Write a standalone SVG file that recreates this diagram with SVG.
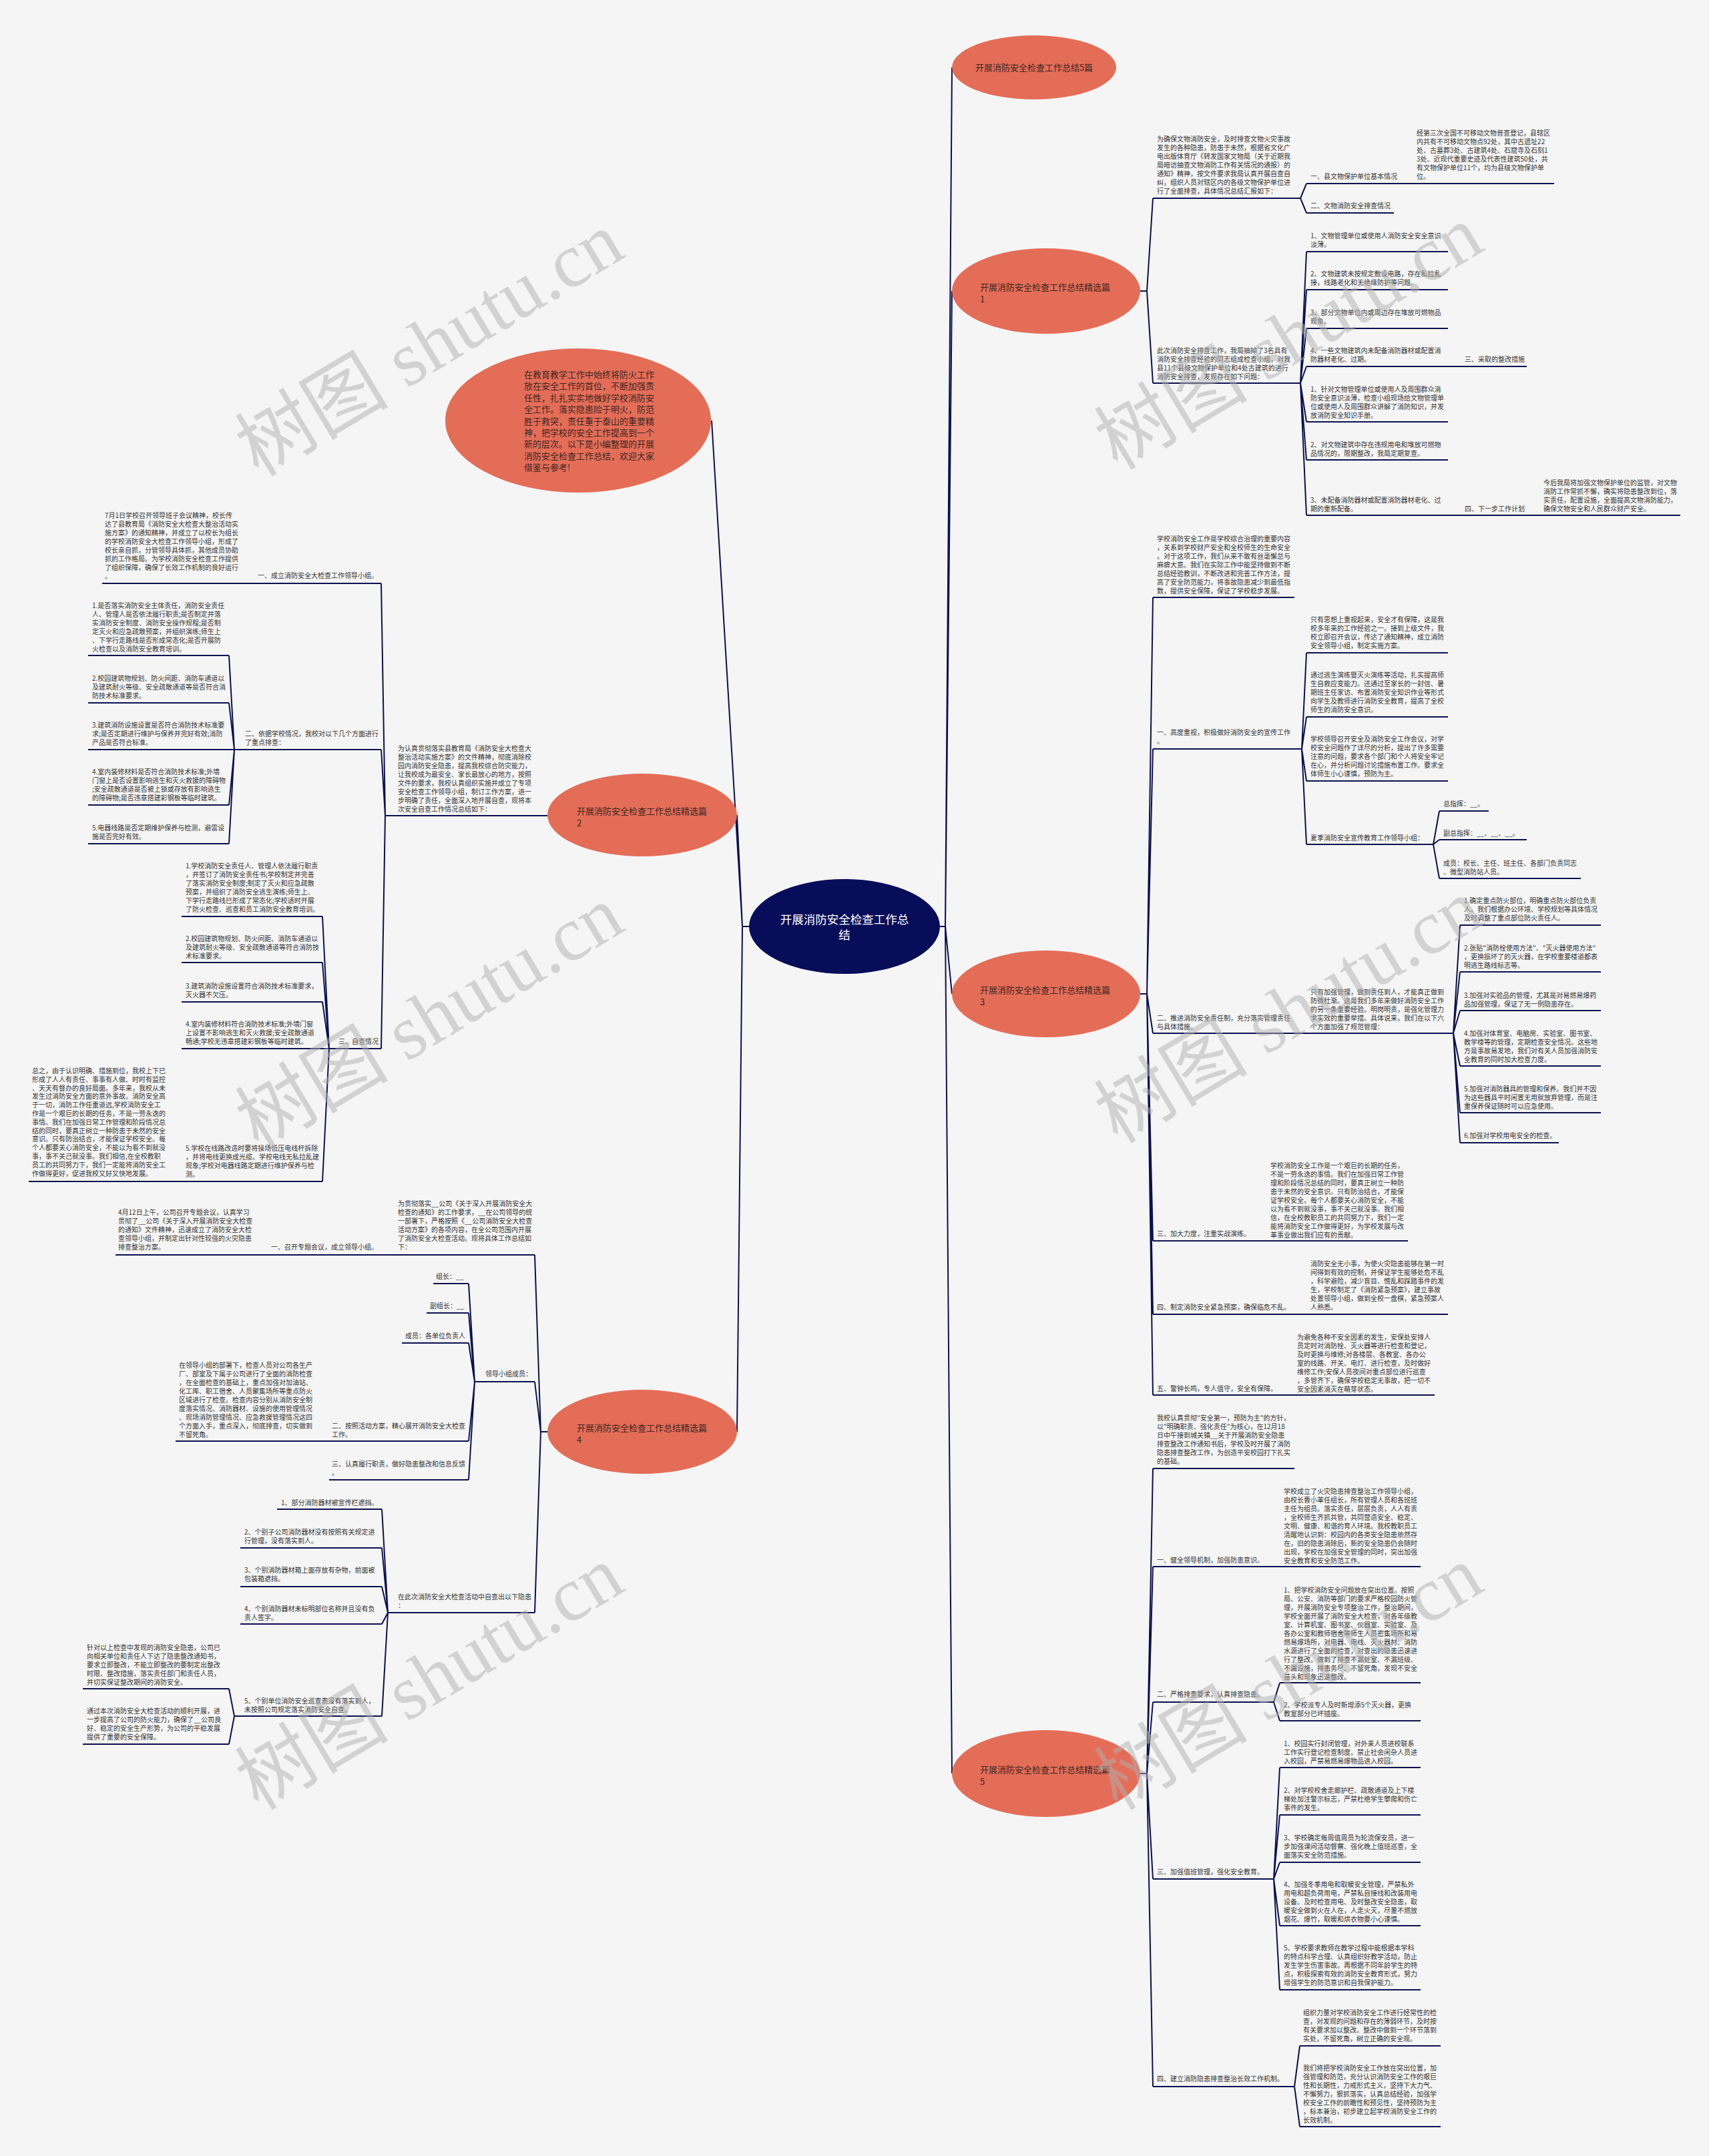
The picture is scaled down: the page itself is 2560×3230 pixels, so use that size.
<svg xmlns="http://www.w3.org/2000/svg" width="2560" height="3230" viewBox="0 0 2560 3230">
<style>
.t{font-family:"Noto Sans CJK SC","Noto Sans",sans-serif;font-size:10px;fill:#333}
.bt{font-family:"Noto Sans CJK SC","Noto Sans",sans-serif;font-size:13px;fill:#3b2520}
.ct{font-family:"Noto Sans CJK SC","Noto Sans",sans-serif;font-size:17.5px;fill:#fff;text-anchor:middle}
.ul{stroke:#0b1150;stroke-width:2}
.cn{stroke:#0b1150;stroke-width:2;fill:none}
.b{fill:#e46d58}
.wm{font-family:"Liberation Serif","Noto Sans CJK SC",serif;font-size:115px;fill:#b0b0b0;opacity:0.5;text-anchor:middle}
</style>
<rect width="2560" height="3230" fill="#f5f5f5"/>
<g id="connectors">
<path class="cn" d="M1407 1388H1416L1426 101M1416 1388L1426 436M1416 1388L1426 1489M1416 1388L1426 2657"/>
<path class="cn" d="M1122 1388H1112L1066 630M1112 1388L1104 1221M1112 1388L1104 2145"/>
<path class="cn" d="M1708 436H1718L1727 297M1718 436L1727 574"/>
<path class="cn" d="M1948 297L1957 275M1948 297L1957 319"/>
<path class="cn" d="M1948 574L1957 377M1948 574L1957 434M1948 574L1957 492M1948 574L1957 549M1948 574L1957 632M1948 574L1957 689M1948 574L1957 772"/>
<path class="cn" d="M1708 1489H1718L1727 895M1718 1489L1727 1122M1718 1489L1727 1548M1718 1489L1727 1859M1718 1489L1727 1969M1718 1489L1727 2090"/>
<path class="cn" d="M1950 1122L1957 978M1950 1122L1957 1074M1950 1122L1957 1170M1950 1122L1957 1265"/>
<path class="cn" d="M2147 1265L2156 1215M2147 1265L2156 1258M2147 1265L2156 1316"/>
<path class="cn" d="M2177 1548L2187 1386M2177 1548L2187 1456M2177 1548L2187 1514M2177 1548L2187 1597M2177 1548L2187 1667M2177 1548L2187 1712"/>
<path class="cn" d="M1708 2657H1718L1727 2200M1718 2657L1727 2347M1718 2657L1727 2550M1718 2657L1727 2815M1718 2657L1727 3126"/>
<path class="cn" d="M1908 2550L1917 2521M1908 2550L1917 2578"/>
<path class="cn" d="M1908 2815L1917 2648M1908 2815L1917 2719M1908 2815L1917 2790M1908 2815L1917 2885M1908 2815L1917 2981"/>
<path class="cn" d="M1939 3126L1947 3065M1939 3126L1947 3186"/>
<path class="cn" d="M583 1222H577L571 874M577 1222L571 1123M577 1222L571 1571"/>
<path class="cn" d="M351 1123L343 982M351 1123L343 1053M351 1123L343 1123M351 1123L343 1206M351 1123L343 1264"/>
<path class="cn" d="M493 1571L483 1373M493 1571L483 1442M493 1571L483 1501M493 1571L483 1571M493 1571L483 1770"/>
<path class="cn" d="M820 2145H810L801 1880M810 2145L801 2070M810 2145L801 2416"/>
<path class="cn" d="M711 2070L702 1923M711 2070L702 1967M711 2070L702 2012M711 2070L702 2159M711 2070L702 2217"/>
<path class="cn" d="M581 2416L572 2261M581 2416L572 2319M581 2416L572 2377M581 2416L572 2433M581 2416L572 2571"/>
<path class="cn" d="M351 2571L343 2530M351 2571L343 2613"/>
</g>

<g id="root">
<ellipse cx="1265" cy="1388" rx="143" ry="71" fill="#070d59"/>
<text class="ct" x="1265" y="1384">开展消防安全检查工作总<tspan x="1265" dy="23">结</tspan></text>
</g>

<g id="top5">
<ellipse class="b" cx="1549" cy="101" rx="123" ry="48"/>
<text class="bt" x="1549" y="106" text-anchor="middle">开展消防安全检查工作总结5篇</text>
</g>

<g id="intro">
<ellipse class="b" cx="866" cy="630" rx="199" ry="108"/>
<text class="bt" x="785" y="566"><tspan x="785" dy="0">在教育教学工作中始终将防火工作</tspan><tspan x="785" dy="17.4">放在安全工作的首位，不断加强责</tspan><tspan x="785" dy="17.4">任性，扎扎实实地做好学校消防安</tspan><tspan x="785" dy="17.4">全工作。落实隐患险于明火，防范</tspan><tspan x="785" dy="17.4">胜于救突，责任重于泰山的重要精</tspan><tspan x="785" dy="17.4">神，把学校的安全工作提高到一个</tspan><tspan x="785" dy="17.4">新的层次。以下是小编整理的开展</tspan><tspan x="785" dy="17.4">消防安全检查工作总结，欢迎大家</tspan><tspan x="785" dy="17.4">借鉴与参考!</tspan></text>
</g>

<!-- Branch 1 -->
<g id="b1">
<ellipse class="b" cx="1567" cy="436" rx="141" ry="64"/>
<text class="bt" x="1468" y="435">开展消防安全检查工作总结精选篇<tspan x="1468" dy="18">1</tspan></text>
</g>
<g id="b1-a">
<line class="ul" x1="1727" y1="297" x2="1948" y2="297"/>
<text class="t" x="1733" y="212"><tspan x="1733" dy="0">为确保文物消防安全，及时排查文物火灾事故</tspan><tspan x="1733" dy="13">发生的各种隐患，防患于未然，根据省文化广</tspan><tspan x="1733" dy="13">电出版体育厅《转发国家文物局（关于近期我</tspan><tspan x="1733" dy="13">局暗访抽查文物消防工作有关情况的通报）的</tspan><tspan x="1733" dy="13">通知》精神，按文件要求我局认真开展自查自</tspan><tspan x="1733" dy="13">纠，组织人员对辖区内的各级文物保护单位进</tspan><tspan x="1733" dy="13">行了全面排查，具体情况总结汇报如下：</tspan></text>
</g>
<g id="b1-a1">
<line class="ul" x1="1957" y1="275" x2="2328" y2="275"/>
<text class="t" x="1963" y="268">一、县文物保护单位基本情况</text>
<text class="t" x="2122" y="203"><tspan x="2122" dy="0">经第三次全国不可移动文物普查登记，县辖区</tspan><tspan x="2122" dy="13">内共有不可移动文物点92处，其中古遗址22</tspan><tspan x="2122" dy="13">处、古墓葬3处、古建筑4处、石窟寺及石刻1</tspan><tspan x="2122" dy="13">3处、近现代重要史迹及代表性建筑50处，共</tspan><tspan x="2122" dy="13">有文物保护单位11个，均为县级文物保护单</tspan><tspan x="2122" dy="13">位。</tspan></text>
</g>
<g id="b1-a2">
<line class="ul" x1="1957" y1="319" x2="2088" y2="319"/>
<text class="t" x="1963" y="312">二、文物消防安全排查情况</text>
</g>
<g id="b1-b">
<line class="ul" x1="1727" y1="574" x2="1948" y2="574"/>
<text class="t" x="1733" y="529"><tspan x="1733" dy="0">此次消防安全排查工作，我局抽掉了3名具有</tspan><tspan x="1733" dy="13">消防安全排查经验的同志组成检查小组，对我</tspan><tspan x="1733" dy="13">县11个县级文物保护单位和4处古建筑的进行</tspan><tspan x="1733" dy="13">消防安全排查，发现存在如下问题：</tspan></text>
</g>
<g id="b1-b1">
<line class="ul" x1="1957" y1="377" x2="2169" y2="377"/>
<text class="t" x="1963" y="357">1、文物管理单位或使用人消防安全安全意识<tspan x="1963" dy="13">淡薄。</tspan></text>
</g>
<g id="b1-b2">
<line class="ul" x1="1957" y1="434" x2="2169" y2="434"/>
<text class="t" x="1963" y="414">2、文物建筑未按规定敷设电路，存在私拉乱<tspan x="1963" dy="13">接，线路老化和无绝缘防护等问题。</tspan></text>
</g>
<g id="b1-b3">
<line class="ul" x1="1957" y1="492" x2="2169" y2="492"/>
<text class="t" x="1963" y="472">3、部分文物单位内或周边存在堆放可燃物品<tspan x="1963" dy="13">现象。</tspan></text>
</g>
<g id="b1-b4">
<line class="ul" x1="1957" y1="549" x2="2287" y2="549"/>
<text class="t" x="1963" y="529">4、一些文物建筑内未配备消防器材或配置消<tspan x="1963" dy="13">防器材老化、过期。</tspan></text>
<text class="t" x="2194" y="542">三、采取的整改措施</text>
</g>
<g id="b1-b5">
<line class="ul" x1="1957" y1="632" x2="2169" y2="632"/>
<text class="t" x="1963" y="587"><tspan x="1963" dy="0">1、针对文物管理单位或使用人及周围群众消</tspan><tspan x="1963" dy="13">防安全意识淡薄，检查小组现场给文物管理单</tspan><tspan x="1963" dy="13">位或使用人及周围群众讲解了消防知识，并发</tspan><tspan x="1963" dy="13">放消防安全知识手册。</tspan></text>
</g>
<g id="b1-b6">
<line class="ul" x1="1957" y1="689" x2="2169" y2="689"/>
<text class="t" x="1963" y="670">2、对文物建筑中存在违规用电和堆放可燃物<tspan x="1963" dy="13">品情况的，限期整改，我局定期复查。</tspan></text>
</g>
<g id="b1-b7">
<line class="ul" x1="1957" y1="772" x2="2517" y2="772"/>
<text class="t" x="1963" y="753">3、未配备消防器材或配置消防器材老化、过<tspan x="1963" dy="13">期的重新配备。</tspan></text>
<text class="t" x="2194" y="766">四、下一步工作计划</text>
<text class="t" x="2312" y="727"><tspan x="2312" dy="0">今后我局将加强文物保护单位的监管，对文物</tspan><tspan x="2312" dy="13">消防工作常抓不懈，确实将隐患整改到位，落</tspan><tspan x="2312" dy="13">实责任，配置设施，全面提高文物消防能力，</tspan><tspan x="2312" dy="13">确保文物安全和人民群众财产安全。</tspan></text>
</g>

<!-- Branch 3 -->
<g id="b3">
<ellipse class="b" cx="1567" cy="1489" rx="141" ry="65"/>
<text class="bt" x="1468" y="1488">开展消防安全检查工作总结精选篇<tspan x="1468" dy="18">3</tspan></text>
</g>
<g id="b3-c">
<line class="ul" x1="1727" y1="895" x2="1939" y2="895"/>
<text class="t" x="1733" y="811"><tspan x="1733" dy="0">学校消防安全工作是学校综合治理的重要内容</tspan><tspan x="1733" dy="13">，关系到学校财产安全和全校师生的生命安全</tspan><tspan x="1733" dy="13">。对于这项工作，我们从来不敢有丝毫懈怠与</tspan><tspan x="1733" dy="13">麻痹大意。我们在实际工作中能坚持做到不断</tspan><tspan x="1733" dy="13">总结经验教训，不断改进和完善工作方法，提</tspan><tspan x="1733" dy="13">高了安全防范能力，将事故隐患减少到最低指</tspan><tspan x="1733" dy="13">数，提供安全保障，保证了学校稳步发展。</tspan></text>
</g>
<g id="b3-1">
<line class="ul" x1="1727" y1="1122" x2="1950" y2="1122"/>
<text class="t" x="1733" y="1101">一、高度重视，积极做好消防安全的宣传工作<tspan x="1733" dy="13">。</tspan></text>
</g>
<g id="b3-1a">
<line class="ul" x1="1957" y1="978" x2="2169" y2="978"/>
<text class="t" x="1963" y="932"><tspan x="1963" dy="0">只有思想上重视起来，安全才有保障，这是我</tspan><tspan x="1963" dy="13">校多年来的工作经验之一。接到上级文件，我</tspan><tspan x="1963" dy="13">校立即召开会议，传达了通知精神，成立消防</tspan><tspan x="1963" dy="13">安全领导小组，制定实施方案。</tspan></text>
</g>
<g id="b3-1b">
<line class="ul" x1="1957" y1="1074" x2="2169" y2="1074"/>
<text class="t" x="1963" y="1015"><tspan x="1963" dy="0">通过逃生演练暨灭火演练等活动，扎实提高师</tspan><tspan x="1963" dy="13">生自救应变能力。还通过至家长的一封信、暑</tspan><tspan x="1963" dy="13">期班主任家访、布置消防安全知识作业等形式</tspan><tspan x="1963" dy="13">向学生及教师进行消防安全教育，提高了全校</tspan><tspan x="1963" dy="13">师生的消防安全意识。</tspan></text>
</g>
<g id="b3-1c">
<line class="ul" x1="1957" y1="1170" x2="2169" y2="1170"/>
<text class="t" x="1963" y="1111"><tspan x="1963" dy="0">学校领导召开安全及消防安全工作会议，对学</tspan><tspan x="1963" dy="13">校安全问题作了详尽的分析，提出了许多需要</tspan><tspan x="1963" dy="13">注意的问题，要求各个部门和个人将安全牢记</tspan><tspan x="1963" dy="13">在心，并分析问题讨论措施布置工作。要求全</tspan><tspan x="1963" dy="13">体师生小心谨慎，预防为主。</tspan></text>
</g>
<g id="b3-1d">
<line class="ul" x1="1957" y1="1265" x2="2147" y2="1265"/>
<text class="t" x="1963" y="1259">夏季消防安全宣传教育工作领导小组：</text>
</g>
<g id="b3-1d1">
<line class="ul" x1="2156" y1="1215" x2="2230" y2="1215"/>
<text class="t" x="2162" y="1208">总指挥：__。</text>
</g>
<g id="b3-1d2">
<line class="ul" x1="2156" y1="1258" x2="2287" y2="1258"/>
<text class="t" x="2162" y="1252">副总指挥：__、__、__。</text>
</g>
<g id="b3-1d3">
<line class="ul" x1="2156" y1="1316" x2="2368" y2="1316"/>
<text class="t" x="2162" y="1297">成员：校长、主任、班主任、各部门负责同志<tspan x="2162" dy="13">、微型消防站人员。</tspan></text>
</g>
<g id="b3-2">
<line class="ul" x1="1727" y1="1548" x2="2177" y2="1548"/>
<text class="t" x="1733" y="1529">二、推进消防安全责任制，充分落实管理责任<tspan x="1733" dy="13">与具体措施。</tspan></text>
<text class="t" x="1963" y="1490"><tspan x="1963" dy="0">只有加强管理，做到责任到人，才能真正做到</tspan><tspan x="1963" dy="13">防微杜渐。这是我们多年来做好消防安全工作</tspan><tspan x="1963" dy="13">的另一条重要经验。明岗明责，是强化管理力</tspan><tspan x="1963" dy="13">求实效的重要举措。具体说来，我们在以下六</tspan><tspan x="1963" dy="13">个方面加强了规范管理：</tspan></text>
</g>
<g id="b3-2a">
<line class="ul" x1="2187" y1="1386" x2="2398" y2="1386"/>
<text class="t" x="2193" y="1353"><tspan x="2193" dy="0">1.确定重点防火部位，明确重点防火部位负责</tspan><tspan x="2193" dy="13">人。我们根据办公环境、学校规划等具体情况</tspan><tspan x="2193" dy="13">及时调整了重点部位防火责任人。</tspan></text>
</g>
<g id="b3-2b">
<line class="ul" x1="2187" y1="1456" x2="2398" y2="1456"/>
<text class="t" x="2193" y="1424"><tspan x="2193" dy="0">2.张贴"消防栓使用方法"、"灭火器使用方法"</tspan><tspan x="2193" dy="13">，更换损坏了的灭火器，在学校重要楼道都表</tspan><tspan x="2193" dy="13">明逃生路线标志等。</tspan></text>
</g>
<g id="b3-2c">
<line class="ul" x1="2187" y1="1514" x2="2398" y2="1514"/>
<text class="t" x="2193" y="1495">3.加强对实验品的管理，尤其是对易燃易爆药<tspan x="2193" dy="13">品加强管理，保证了无一例隐患存在。</tspan></text>
</g>
<g id="b3-2d">
<line class="ul" x1="2187" y1="1597" x2="2398" y2="1597"/>
<text class="t" x="2193" y="1552"><tspan x="2193" dy="0">4.加强对体育室、电脑房、实验室、图书室、</tspan><tspan x="2193" dy="13">教学楼等的管理，定期检查安全情况。这些地</tspan><tspan x="2193" dy="13">方是事故易发地，我们对有关人员加强消防安</tspan><tspan x="2193" dy="13">全教育的同时加大检查力度。</tspan></text>
</g>
<g id="b3-2e">
<line class="ul" x1="2187" y1="1667" x2="2398" y2="1667"/>
<text class="t" x="2193" y="1635"><tspan x="2193" dy="0">5.加强对消防器具的管理和保养。我们并不因</tspan><tspan x="2193" dy="13">为这些器具平时闲置无用就放弃管理，而是注</tspan><tspan x="2193" dy="13">重保养保证随时可以应急使用。</tspan></text>
</g>
<g id="b3-2f">
<line class="ul" x1="2187" y1="1712" x2="2335" y2="1712"/>
<text class="t" x="2193" y="1705">6.加强对学校用电安全的检查。</text>
</g>
<g id="b3-3">
<line class="ul" x1="1727" y1="1859" x2="2109" y2="1859"/>
<text class="t" x="1733" y="1852">三、加大力度，注重实战演练。</text>
<text class="t" x="1903" y="1750"><tspan x="1903" dy="0">学校消防安全工作是一个艰巨的长期的任务，</tspan><tspan x="1903" dy="13">不是一劳永逸的事情。我们在加强日常工作管</tspan><tspan x="1903" dy="13">理和阶段情况总结的同时，要真正树立一种防</tspan><tspan x="1903" dy="13">患于未然的安全意识。只有防治结合，才能保</tspan><tspan x="1903" dy="13">证学校安全。每个人都要关心消防安全，不能</tspan><tspan x="1903" dy="13">以为看不到就没事，事不关己就没事。我们相</tspan><tspan x="1903" dy="13">信，在全校教职员工的共同努力下，我们一定</tspan><tspan x="1903" dy="13">能将消防安全工作做得更好，为学校发展与改</tspan><tspan x="1903" dy="13">革事业做出我们应有的贡献。</tspan></text>
</g>
<g id="b3-4">
<line class="ul" x1="1727" y1="1969" x2="2169" y2="1969"/>
<text class="t" x="1733" y="1962">四、制定消防安全紧急预案，确保临危不乱。</text>
<text class="t" x="1963" y="1897"><tspan x="1963" dy="0">消防安全无小事，为使火灾隐患能够在第一时</tspan><tspan x="1963" dy="13">间得到有效的控制，并保证学生能够处危不乱</tspan><tspan x="1963" dy="13">，科学避险，减少盲目、慌乱和踩踏事件的发</tspan><tspan x="1963" dy="13">生，学校制定了《消防紧急预案》，建立事故</tspan><tspan x="1963" dy="13">处置领导小组，做到全校一盘棋，紧急预案人</tspan><tspan x="1963" dy="13">人熟悉。</tspan></text>
</g>
<g id="b3-5">
<line class="ul" x1="1727" y1="2090" x2="2149" y2="2090"/>
<text class="t" x="1733" y="2084">五、警钟长鸣，专人值守，安全有保障。</text>
<text class="t" x="1943" y="2007"><tspan x="1943" dy="0">为避免各种不安全因素的发生，安保处安排人</tspan><tspan x="1943" dy="13">员定时对消防栓、灭火器等进行检查和登记，</tspan><tspan x="1943" dy="13">及时更换与维修;对各楼层、各教室、各办公</tspan><tspan x="1943" dy="13">室的线路、开关、电灯、进行检查，及时做好</tspan><tspan x="1943" dy="13">维修工作;安保人员夜间对重点部位进行巡查</tspan><tspan x="1943" dy="13">，多管齐下，确保学校稳定无事故，把一切不</tspan><tspan x="1943" dy="13">安全因素消灭在萌芽状态。</tspan></text>
</g>

<!-- Branch 5 -->
<g id="b5">
<ellipse class="b" cx="1567" cy="2657" rx="141" ry="65"/>
<text class="bt" x="1468" y="2656">开展消防安全检查工作总结精选篇<tspan x="1468" dy="18">5</tspan></text>
</g>
<g id="b5-i">
<line class="ul" x1="1727" y1="2200" x2="1939" y2="2200"/>
<text class="t" x="1733" y="2128"><tspan x="1733" dy="0">我校认真贯彻"安全第一，预防为主"的方针，</tspan><tspan x="1733" dy="13">以"明确职责、强化责任"为核心，在12月18</tspan><tspan x="1733" dy="13">日中午接到城关镇__关于开展消防安全隐患</tspan><tspan x="1733" dy="13">排查整改工作通知书后，学校及时开展了消防</tspan><tspan x="1733" dy="13">隐患排查整改工作，为创造平安校园打下扎实</tspan><tspan x="1733" dy="13">的基础。</tspan></text>
</g>
<g id="b5-1">
<line class="ul" x1="1727" y1="2347" x2="2128" y2="2347"/>
<text class="t" x="1733" y="2341">一、健全领导机制，加强防患意识。</text>
<text class="t" x="1923" y="2238"><tspan x="1923" dy="0">学校成立了火灾隐患排查整治工作领导小组，</tspan><tspan x="1923" dy="13">由校长曹小革任组长，所有管理人员和各班班</tspan><tspan x="1923" dy="13">主任为组员。落实责任，层层负责，人人有责</tspan><tspan x="1923" dy="13">，全校师生齐抓共管，共同营造安全、稳定、</tspan><tspan x="1923" dy="13">文明、健康、和谐的育人环境。我校教职员工</tspan><tspan x="1923" dy="13">清醒地认识到：校园内的各类安全隐患依然存</tspan><tspan x="1923" dy="13">在，旧的隐患消除后，新的安全隐患仍会随时</tspan><tspan x="1923" dy="13">出现，学校在加强安全管理的同时，突出加强</tspan><tspan x="1923" dy="13">安全教育和安全防范工作。</tspan></text>
</g>
<g id="b5-2">
<line class="ul" x1="1727" y1="2550" x2="1908" y2="2550"/>
<text class="t" x="1733" y="2542">二、严格排查要求，认真排查隐患。</text>
</g>
<g id="b5-2a">
<line class="ul" x1="1917" y1="2521" x2="2128" y2="2521"/>
<text class="t" x="1923" y="2386"><tspan x="1923" dy="0">1、把学校消防安全问题放在突出位置。按照</tspan><tspan x="1923" dy="13">局、公安、消防等部门的要求严格校园防火管</tspan><tspan x="1923" dy="13">理，开展消防安全专项整治工作，整治期间，</tspan><tspan x="1923" dy="13">学校全面开展了消防安全大检查，对各年级教</tspan><tspan x="1923" dy="13">室、计算机室、图书室、仪器室、实验室、及</tspan><tspan x="1923" dy="13">各办公室和教师宿舍等师生人员密集场所和易</tspan><tspan x="1923" dy="13">燃易爆场所，对电器、电线、灭火器材、消防</tspan><tspan x="1923" dy="13">水源进行了全面的检查，对查出的隐患迅速进</tspan><tspan x="1923" dy="13">行了整改。做到了排查不漏处室、不漏班级、</tspan><tspan x="1923" dy="13">不漏设施，排患务尽、不留死角，发现不安全</tspan><tspan x="1923" dy="13">苗头和现象迅速整改。</tspan></text>
</g>
<g id="b5-2b">
<line class="ul" x1="1917" y1="2578" x2="2128" y2="2578"/>
<text class="t" x="1923" y="2558">2、学校派专人及时新增添5个灭火器，更换<tspan x="1923" dy="13">教室部分已坏插座。</tspan></text>
</g>
<g id="b5-3">
<line class="ul" x1="1727" y1="2815" x2="1908" y2="2815"/>
<text class="t" x="1733" y="2808">三、加强值班管理，强化安全教育。</text>
</g>
<g id="b5-3a">
<line class="ul" x1="1917" y1="2648" x2="2128" y2="2648"/>
<text class="t" x="1923" y="2616"><tspan x="1923" dy="0">1、校园实行封闭管理，对外来人员进校联系</tspan><tspan x="1923" dy="13">工作实行登记检查制度。禁止社会闲杂人员进</tspan><tspan x="1923" dy="13">入校园，严禁易燃易爆物品进入校园。</tspan></text>
</g>
<g id="b5-3b">
<line class="ul" x1="1917" y1="2719" x2="2128" y2="2719"/>
<text class="t" x="1923" y="2686"><tspan x="1923" dy="0">2、对学校校舍走廊护栏、疏散通道及上下楼</tspan><tspan x="1923" dy="13">梯处加注警示标志，严禁杜绝学生攀爬和伤亡</tspan><tspan x="1923" dy="13">事件的发生。</tspan></text>
</g>
<g id="b5-3c">
<line class="ul" x1="1917" y1="2790" x2="2128" y2="2790"/>
<text class="t" x="1923" y="2757"><tspan x="1923" dy="0">3、学校确定每周值周员为轮流保安员，进一</tspan><tspan x="1923" dy="13">步加强课间活动督察、强化晚上值班巡查，全</tspan><tspan x="1923" dy="13">面落实安全防范措施。</tspan></text>
</g>
<g id="b5-3d">
<line class="ul" x1="1917" y1="2885" x2="2128" y2="2885"/>
<text class="t" x="1923" y="2827"><tspan x="1923" dy="0">4、加强冬季用电和取暖安全管理，严禁私外</tspan><tspan x="1923" dy="13">用电和超负荷用电，严禁私自接线和改装用电</tspan><tspan x="1923" dy="13">设备。及时检查用电、及时整改安全隐患，取</tspan><tspan x="1923" dy="13">暖安全做到火在人在，人走火灭，尽量不燃放</tspan><tspan x="1923" dy="13">烟花、爆竹，取暖和烘衣物要小心谨慎。</tspan></text>
</g>
<g id="b5-3e">
<line class="ul" x1="1917" y1="2981" x2="2128" y2="2981"/>
<text class="t" x="1923" y="2922"><tspan x="1923" dy="0">5、学校要求教师在教学过程中能根据本学科</tspan><tspan x="1923" dy="13">的特点科学合理、认真组织好教学活动，防止</tspan><tspan x="1923" dy="13">发生学生伤害事故。再根据不同年龄学生的特</tspan><tspan x="1923" dy="13">点，积极探索有效的消防安全教育形式，努力</tspan><tspan x="1923" dy="13">增强学生的防范意识和自我保护能力。</tspan></text>
</g>
<g id="b5-4">
<line class="ul" x1="1727" y1="3126" x2="1939" y2="3126"/>
<text class="t" x="1733" y="3118">四、建立消防隐患排查整治长效工作机制。</text>
</g>
<g id="b5-4a">
<line class="ul" x1="1947" y1="3065" x2="2158" y2="3065"/>
<text class="t" x="1952" y="3019"><tspan x="1952" dy="0">组织力量对学校消防安全工作进行经常性的检</tspan><tspan x="1952" dy="13">查，对发现的问题和存在的薄弱环节，及时按</tspan><tspan x="1952" dy="13">有关要求加以整改。整改中做到一个环节落到</tspan><tspan x="1952" dy="13">实处，不留死角，树立正确的安全观。</tspan></text>
</g>
<g id="b5-4b">
<line class="ul" x1="1947" y1="3186" x2="2158" y2="3186"/>
<text class="t" x="1952" y="3102"><tspan x="1952" dy="0">我们将把学校消防安全工作放在突出位置，加</tspan><tspan x="1952" dy="13">强管理和防范，充分认识消防安全工作的艰巨</tspan><tspan x="1952" dy="13">性和长期性，力戒形式主义，坚持下大力气、</tspan><tspan x="1952" dy="13">不懈努力，狠抓落实，认真总结经验，加强学</tspan><tspan x="1952" dy="13">校安全工作的前瞻性和预见性，坚持预防为主</tspan><tspan x="1952" dy="13">，标本兼治，初步建立起学校消防安全工作的</tspan><tspan x="1952" dy="13">长效机制。</tspan></text>
</g>

<!-- Branch 2 -->
<g id="b2">
<ellipse class="b" cx="962" cy="1221" rx="142" ry="62"/>
<text class="bt" x="864" y="1220">开展消防安全检查工作总结精选篇<tspan x="864" dy="18">2</tspan></text>
</g>
<g id="b2-m">
<line class="ul" x1="583" y1="1222" x2="820" y2="1222"/>
<text class="t" x="596" y="1125"><tspan x="596" dy="0">为认真贯彻落实县教育局《消防安全大检查大</tspan><tspan x="596" dy="13">整治活动实施方案》的文件精神，彻底消除校</tspan><tspan x="596" dy="13">园内消防安全隐患，提高我校综合防灾能力，</tspan><tspan x="596" dy="13">让我校成为最安全、家长最放心的地方，按照</tspan><tspan x="596" dy="13">文件的要求，我校认真组织实施并成立了专项</tspan><tspan x="596" dy="13">安全检查工作领导小组，制订工作方案，进一</tspan><tspan x="596" dy="13">步明确了责任，全面深入地开展自查，现将本</tspan><tspan x="596" dy="13">次安全自查工作情况总结如下：</tspan></text>
</g>
<g id="b2-1">
<line class="ul" x1="153" y1="874" x2="571" y2="874"/>
<text class="t" x="386" y="866">一、成立消防安全大检查工作领导小组。</text>
<text class="t" x="157" y="776"><tspan x="157" dy="0">7月1日学校召开领导班子会议精神，校长传</tspan><tspan x="157" dy="13">达了县教育局《消防安全大检查大整治活动实</tspan><tspan x="157" dy="13">施方案》的通知精神，并成立了以校长为组长</tspan><tspan x="157" dy="13">的学校消防安全大检查工作领导小组，形成了</tspan><tspan x="157" dy="13">校长亲自抓，分管领导具体抓，其他成员协助</tspan><tspan x="157" dy="13">抓的工作格局。为学校消防安全检查工作提供</tspan><tspan x="157" dy="13">了组织保障，确保了长效工作机制的良好运行</tspan><tspan x="157" dy="13">。</tspan></text>
</g>
<g id="b2-2">
<line class="ul" x1="351" y1="1123" x2="571" y2="1123"/>
<text class="t" x="367" y="1103">二、依据学校情况，我校对以下几个方面进行<tspan x="367" dy="13">了重点排查：</tspan></text>
</g>
<g id="b2-2a">
<line class="ul" x1="132" y1="982" x2="343" y2="982"/>
<text class="t" x="138" y="911"><tspan x="138" dy="0">1.是否落实消防安全主体责任，消防安全责任</tspan><tspan x="138" dy="13">人、管理人是否依法履行职责;是否制定并落</tspan><tspan x="138" dy="13">实消防安全制度、消防安全操作规程;是否制</tspan><tspan x="138" dy="13">定灭火和应急疏散预案，并组织演练;师生上</tspan><tspan x="138" dy="13">、下学行走路线是否形成常态化;是否开展防</tspan><tspan x="138" dy="13">火检查以及消防安全教育培训。</tspan></text>
</g>
<g id="b2-2b">
<line class="ul" x1="132" y1="1053" x2="343" y2="1053"/>
<text class="t" x="138" y="1020"><tspan x="138" dy="0">2.校园建筑物规划、防火间距、消防车通道以</tspan><tspan x="138" dy="13">及建筑耐火等级、安全疏散通道等是否符合消</tspan><tspan x="138" dy="13">防技术标准要求。</tspan></text>
</g>
<g id="b2-2c">
<line class="ul" x1="132" y1="1123" x2="343" y2="1123"/>
<text class="t" x="138" y="1090"><tspan x="138" dy="0">3.建筑消防设施设置是否符合消防技术标准要</tspan><tspan x="138" dy="13">求;是否定期进行维护与保养并完好有效;消防</tspan><tspan x="138" dy="13">产品是否符合标准。</tspan></text>
</g>
<g id="b2-2d">
<line class="ul" x1="132" y1="1206" x2="343" y2="1206"/>
<text class="t" x="138" y="1160"><tspan x="138" dy="0">4.室内装修材料是否符合消防技术标准;外墙</tspan><tspan x="138" dy="13">门窗上是否设置影响逃生和灭火救援的障碍物</tspan><tspan x="138" dy="13">;安全疏散通道是否被上锁或存放有影响逃生</tspan><tspan x="138" dy="13">的障碍物;是否违章搭建彩钢板等临时建筑。</tspan></text>
</g>
<g id="b2-2e">
<line class="ul" x1="132" y1="1264" x2="343" y2="1264"/>
<text class="t" x="138" y="1244">5.电器线路是否定期维护保养与检测，避雷设<tspan x="138" dy="13">施是否完好有效。</tspan></text>
</g>
<g id="b2-3">
<line class="ul" x1="493" y1="1571" x2="571" y2="1571"/>
<text class="t" x="507" y="1564">三、自查情况</text>
</g>
<g id="b2-3a">
<line class="ul" x1="272" y1="1373" x2="483" y2="1373"/>
<text class="t" x="278" y="1301"><tspan x="278" dy="0">1.学校消防安全责任人、管理人依法履行职责</tspan><tspan x="278" dy="13">，并签订了消防安全责任书;学校制定并完善</tspan><tspan x="278" dy="13">了落实消防安全制度;制定了灭火和应急疏散</tspan><tspan x="278" dy="13">预案，并组织了消防安全逃生演练;师生上、</tspan><tspan x="278" dy="13">下学行走路线已形成了常态化;学校适时开展</tspan><tspan x="278" dy="13">了防火检查、巡查和员工消防安全教育培训。</tspan></text>
</g>
<g id="b2-3b">
<line class="ul" x1="272" y1="1442" x2="483" y2="1442"/>
<text class="t" x="278" y="1410"><tspan x="278" dy="0">2.校园建筑物规划、防火间距、消防车通道以</tspan><tspan x="278" dy="13">及建筑耐火等级、安全疏散通道等符合消防技</tspan><tspan x="278" dy="13">术标准要求。</tspan></text>
</g>
<g id="b2-3c">
<line class="ul" x1="272" y1="1501" x2="483" y2="1501"/>
<text class="t" x="278" y="1481">3.建筑消防设施设置符合消防技术标准要求，<tspan x="278" dy="13">灭火器不欠压。</tspan></text>
</g>
<g id="b2-3d">
<line class="ul" x1="272" y1="1571" x2="483" y2="1571"/>
<text class="t" x="278" y="1538"><tspan x="278" dy="0">4.室内装修材料符合消防技术标准;外墙门窗</tspan><tspan x="278" dy="13">上设置不影响逃生和灭火救援;安全疏散通道</tspan><tspan x="278" dy="13">畅通;学校无违章搭建彩钢板等临时建筑。</tspan></text>
</g>
<g id="b2-3e">
<line class="ul" x1="43" y1="1770" x2="483" y2="1770"/>
<text class="t" x="278" y="1724"><tspan x="278" dy="0">5.学校在线路改造时要将操场低压电线杆拆除</tspan><tspan x="278" dy="13">，并将电线更换成光缆。学校电线无私拉乱建</tspan><tspan x="278" dy="13">现象;学校对电器线路定期进行维护保养与检</tspan><tspan x="278" dy="13">测。</tspan></text>
<text class="t" x="48" y="1608"><tspan x="48" dy="0">总之，由于认识明确、措施到位，我校上下已</tspan><tspan x="48" dy="12.8">形成了人人有责任、事事有人做、时时有监控</tspan><tspan x="48" dy="12.8">、天天有督办的良好局面。多年来，我校从未</tspan><tspan x="48" dy="12.8">发生过消防安全方面的意外事故。消防安全高</tspan><tspan x="48" dy="12.8">于一切，消防工作任重道远,学校消防安全工</tspan><tspan x="48" dy="12.8">作是一个艰巨的长期的任务，不是一劳永逸的</tspan><tspan x="48" dy="12.8">事情。我们在加强日常工作管理和阶段情况总</tspan><tspan x="48" dy="12.8">结的同时，要真正树立一种防患于未然的安全</tspan><tspan x="48" dy="12.8">意识。只有防治结合，才能保证学校安全。每</tspan><tspan x="48" dy="12.8">个人都要关心消防安全，不能以为看不到就没</tspan><tspan x="48" dy="12.8">事，事不关己就没事。我们相信,在全校教职</tspan><tspan x="48" dy="12.8">员工的共同努力下，我们一定能将消防安全工</tspan><tspan x="48" dy="12.8">作做得更好，促进我校又好又快地发展。</tspan></text>
</g>

<!-- Branch 4 -->
<g id="b4">
<ellipse class="b" cx="962" cy="2145" rx="142" ry="63"/>
<text class="bt" x="864" y="2144">开展消防安全检查工作总结精选篇<tspan x="864" dy="18">4</tspan></text>
</g>
<g id="b4-r">
<line class="ul" x1="173" y1="1880" x2="801" y2="1880"/>
<text class="t" x="596" y="1807"><tspan x="596" dy="0">为贯彻落实__公司《关于深入开展消防安全大</tspan><tspan x="596" dy="13">检查的通知》的工作要求，__在公司领导的统</tspan><tspan x="596" dy="13">一部署下，严格按照《__公司消防安全大检查</tspan><tspan x="596" dy="13">活动方案》的各项内容，在全公司范围内开展</tspan><tspan x="596" dy="13">了消防安全大检查活动。现将具体工作总结如</tspan><tspan x="596" dy="13">下：</tspan></text>
<text class="t" x="406" y="1872">一、召开专题会议，成立领导小组。</text>
<text class="t" x="177" y="1820"><tspan x="177" dy="0">4月12日上午，公司召开专题会议，认真学习</tspan><tspan x="177" dy="13">贯彻了__公司《关于深入开展消防安全大检查</tspan><tspan x="177" dy="13">的通知》文件精神，迅速成立了消防安全大检</tspan><tspan x="177" dy="13">查领导小组，并制定出针对性较强的火灾隐患</tspan><tspan x="177" dy="13">排查整治方案。</tspan></text>
</g>
<g id="b4-g">
<line class="ul" x1="711" y1="2070" x2="801" y2="2070"/>
<text class="t" x="727" y="2062">领导小组成员：</text>
</g>
<g id="b4-g1">
<line class="ul" x1="649" y1="1923" x2="702" y2="1923"/>
<text class="t" x="653" y="1916">组长：__</text>
</g>
<g id="b4-g2">
<line class="ul" x1="639" y1="1967" x2="702" y2="1967"/>
<text class="t" x="644" y="1960">副组长：__</text>
</g>
<g id="b4-g3">
<line class="ul" x1="602" y1="2012" x2="702" y2="2012"/>
<text class="t" x="607" y="2005">成员：各单位负责人</text>
</g>
<g id="b4-g4">
<line class="ul" x1="263" y1="2159" x2="702" y2="2159"/>
<text class="t" x="497" y="2140">二、按照活动方案，精心展开消防安全大检查<tspan x="497" dy="13">工作。</tspan></text>
<text class="t" x="268" y="2049"><tspan x="268" dy="0">在领导小组的部署下，检查人员对公司各生产</tspan><tspan x="268" dy="13">厂、部室及下属子公司进行了全面的消防检查</tspan><tspan x="268" dy="13">，在全面检查的基础上，重点加强对加油站、</tspan><tspan x="268" dy="13">化工库、职工宿舍、人员聚集场所等重点防火</tspan><tspan x="268" dy="13">区域进行了检查。检查内容分别从消防安全制</tspan><tspan x="268" dy="13">度落实情况、消防器材、设施的使用管理情况</tspan><tspan x="268" dy="13">、现场消防管理情况、应急救援管理情况这四</tspan><tspan x="268" dy="13">个方面入手，重点深入，彻底排查，切实做到</tspan><tspan x="268" dy="13">不留死角。</tspan></text>
</g>
<g id="b4-g5">
<line class="ul" x1="493" y1="2217" x2="702" y2="2217"/>
<text class="t" x="497" y="2197">三、认真履行职责，做好隐患整改和信息反馈<tspan x="497" dy="13">。</tspan></text>
</g>
<g id="b4-h">
<line class="ul" x1="581" y1="2416" x2="801" y2="2416"/>
<text class="t" x="596" y="2396">在此次消防安全大检查活动中自查出以下隐患<tspan x="596" dy="13">：</tspan></text>
</g>
<g id="b4-h1">
<line class="ul" x1="415" y1="2261" x2="572" y2="2261"/>
<text class="t" x="421" y="2255">1、部分消防器材被宣传栏遮挡。</text>
</g>
<g id="b4-h2">
<line class="ul" x1="360" y1="2319" x2="572" y2="2319"/>
<text class="t" x="366" y="2299">2、个别子公司消防器材没有按照有关规定进<tspan x="366" dy="13">行管理，没有落实到人。</tspan></text>
</g>
<g id="b4-h3">
<line class="ul" x1="360" y1="2377" x2="572" y2="2377"/>
<text class="t" x="366" y="2356">3、个别消防器材箱上面存放有杂物，前面被<tspan x="366" dy="13">包装箱遮挡。</tspan></text>
</g>
<g id="b4-h4">
<line class="ul" x1="360" y1="2433" x2="572" y2="2433"/>
<text class="t" x="366" y="2414">4、个别消防器材未标明部位名称并且没有负<tspan x="366" dy="13">责人签字。</tspan></text>
</g>
<g id="b4-h5">
<line class="ul" x1="351" y1="2571" x2="572" y2="2571"/>
<text class="t" x="366" y="2552">5、个别单位消防安全巡查表没有落实到人，<tspan x="366" dy="13">未按照公司规定落实消防安全自查。</tspan></text>
</g>
<g id="b4-h5a">
<line class="ul" x1="124" y1="2530" x2="343" y2="2530"/>
<text class="t" x="130" y="2472"><tspan x="130" dy="0">针对以上检查中发现的消防安全隐患，公司已</tspan><tspan x="130" dy="13">向相关单位和责任人下达了隐患整改通知书，</tspan><tspan x="130" dy="13">要求立即整改，不能立即整改的要制定出整改</tspan><tspan x="130" dy="13">时限、整改措施，落实责任部门和责任人员，</tspan><tspan x="130" dy="13">并切实保证整改期间的消防安全。</tspan></text>
</g>
<g id="b4-h5b">
<line class="ul" x1="124" y1="2613" x2="343" y2="2613"/>
<text class="t" x="130" y="2567"><tspan x="130" dy="0">通过本次消防安全大检查活动的顺利开展，进</tspan><tspan x="130" dy="13">一步提高了公司的防火能力，确保了__公司良</tspan><tspan x="130" dy="13">好、稳定的安全生产形势，为公司的平稳发展</tspan><tspan x="130" dy="13">提供了重要的安全保障。</tspan></text>
</g>

<g id="watermarks">
<text class="wm" x="643" y="555" transform="rotate(-31 643 515)">树图 shutu.cn</text>
<text class="wm" x="1930" y="545" transform="rotate(-31 1930 505)">树图 shutu.cn</text>
<text class="wm" x="643" y="1564" transform="rotate(-31 643 1524)">树图 shutu.cn</text>
<text class="wm" x="1930" y="1554" transform="rotate(-31 1930 1514)">树图 shutu.cn</text>
<text class="wm" x="643" y="2553" transform="rotate(-31 643 2513)">树图 shutu.cn</text>
<text class="wm" x="1930" y="2553" transform="rotate(-31 1930 2513)">树图 shutu.cn</text>
</g>
</svg>
